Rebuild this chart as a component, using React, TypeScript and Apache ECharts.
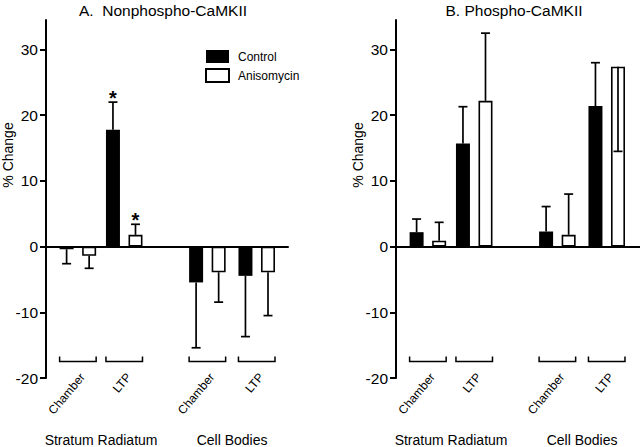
import React, { useEffect, useRef } from 'react';
import * as echarts from 'echarts';

// ---------- data ----------
const groupCategories = ['Chamber', 'LTP'];
const groupNames = ['Stratum Radiatum', 'Cell Bodies'];
const seriesNames = ['Control', 'Anisomycin'];
const panelTitles = ['A.  Nonphospho-CaMKII', 'B. Phospho-CaMKII'];
const yAxisTitle = '% Change';
const yTicks = [-20, -10, 0, 10, 20, 30];

// order: SR Chamber, SR LTP, CB Chamber, CB LTP
const nonphosphoControl = [-0.4, 17.8, -5.45, -4.45];
const nonphosphoControlSem = [2.2, 4.2, 9.95, 9.25];
const nonphosphoControlSig = ['', '*', '', ''];
const nonphosphoAniso = [-1.4, 1.8, -3.9, -3.9];
const nonphosphoAnisoSem = [1.9, 1.6, 4.55, 6.6];
const nonphosphoAnisoSig = ['', '*', '', ''];

const phosphoControl = [2.2, 15.7, 2.3, 21.4];
const phosphoControlSem = [2.0, 5.6, 3.8, 6.6];
const phosphoControlSig = ['', '', '', ''];
const phosphoAniso = [0.9, 22.2, 1.8, 27.4];
const phosphoAnisoSem = [2.8, 10.3, 6.2, 12.9];
const phosphoAnisoSig = ['', '', '', ''];
// direction in which each error bar is drawn (1 = away from zero, -1 = toward zero)
const phosphoAnisoSemDir = [1, 1, 1, -1];

// ---------- layout / style ----------
const FONT = '"Liberation Sans", Arial, Helvetica, sans-serif';
const Y_MIN = -20;
const Y_MAX = 34.5;
const GRID_TOP = 20;
const GRID_H = 358;
const PANEL_LEFT = [46, 396];
const PANEL_WIDTH = [242, 244];
const GROUP_BOX = [
  { left: 8.7, width: 92.7 },
  { left: 136.7, width: 98.7 },
];
const BAR_W = 14;
const BAR_GAP = 0.61;
const HALF = (BAR_W * (1 + BAR_GAP)) / 2;
const BRACKET_LEVEL = -17.5;
const LABEL_LIFT = 7;

type PanelData = {
  control: number[];
  controlSem: number[];
  controlSig: string[];
  aniso: number[];
  anisoSem: number[];
  anisoSig: string[];
  anisoDir: number[];
};

const panels: PanelData[] = [
  {
    control: nonphosphoControl,
    controlSem: nonphosphoControlSem,
    controlSig: nonphosphoControlSig,
    aniso: nonphosphoAniso,
    anisoSem: nonphosphoAnisoSem,
    anisoSig: nonphosphoAnisoSig,
    anisoDir: [1, 1, 1, 1],
  },
  {
    control: phosphoControl,
    controlSem: phosphoControlSem,
    controlSig: phosphoControlSig,
    aniso: phosphoAniso,
    anisoSem: phosphoAnisoSem,
    anisoSig: phosphoAnisoSig,
    anisoDir: phosphoAnisoSemDir,
  },
];

function buildOption() {
  const grid: any[] = [];
  const xAxis: any[] = [];
  const yAxis: any[] = [];
  const series: any[] = [];
  const graphic: any[] = [];

  panels.forEach((pd, p) => {
    // axis grid
    const gi = grid.length;
    grid.push({
      left: PANEL_LEFT[p],
      top: GRID_TOP,
      width: PANEL_WIDTH[p],
      height: GRID_H,
      outerBoundsMode: 'none',
    });
    xAxis.push({
      gridIndex: gi,
      type: 'category',
      data: [''],
      axisLine: { show: true, onZero: true, lineStyle: { color: '#000', width: 2 } },
      axisTick: { show: false },
      axisLabel: { show: false },
      splitLine: { show: false },
    });
    yAxis.push({
      gridIndex: gi,
      type: 'value',
      min: Y_MIN,
      max: Y_MAX,
      axisLine: { show: true, lineStyle: { color: '#000', width: 2 } },
      axisTick: {
        show: true,
        length: 6,
        lineStyle: { color: '#000', width: 2 },
        customValues: yTicks,
      },
      axisLabel: {
        customValues: yTicks,
        fontSize: 15.5,
        color: '#000',
        fontFamily: FONT,
        margin: 8,
      },
      splitLine: { show: false },
    });

    // group grids
    [0, 1].forEach((g) => {
      const idx = grid.length;
      grid.push({
        left: PANEL_LEFT[p] + GROUP_BOX[g].left,
        top: GRID_TOP,
        width: GROUP_BOX[g].width,
        height: GRID_H,
        outerBoundsMode: 'none',
      });
      xAxis.push({
        gridIndex: idx,
        type: 'category',
        data: groupCategories,
        position: 'bottom',
        offset: -LABEL_LIFT,
        axisLine: { show: false, onZero: false },
        axisTick: { show: false },
        axisLabel: {
          interval: 0,
          rotate: 50,
          fontSize: 12,
          color: '#000',
          fontFamily: FONT,
          margin: 0,
          verticalAlign: 'top',
        },
        name: groupNames[g],
        nameLocation: 'middle',
        nameGap: 54 + LABEL_LIFT + 1,
        nameMoveOverlap: false,
        nameTextStyle: { fontSize: 14, color: '#000', fontFamily: FONT },
        splitLine: { show: false },
      });
      yAxis.push({
        gridIndex: idx,
        type: 'value',
        min: Y_MIN,
        max: Y_MAX,
        show: false,
        splitLine: { show: false },
      });

      const sl = [2 * g, 2 * g + 2];
      series.push({
        name: seriesNames[0],
        type: 'bar',
        xAxisIndex: idx,
        yAxisIndex: idx,
        data: pd.control.slice(sl[0], sl[1]),
        barWidth: BAR_W,
        barGap: `${BAR_GAP * 100}%`,
        itemStyle: { color: '#000' },
        silent: true,
      });
      series.push({
        name: seriesNames[1],
        type: 'bar',
        xAxisIndex: idx,
        yAxisIndex: idx,
        data: pd.aniso.slice(sl[0], sl[1]),
        barWidth: BAR_W,
        barGap: `${BAR_GAP * 100}%`,
        itemStyle: { color: '#fff', borderColor: '#000', borderWidth: 1.6 },
        silent: true,
      });

      // error bars
      const errData: number[][] = [];
      const sigs: string[] = [];
      [0, 1].forEach((k) => {
        const i = sl[0] + k;
        const cv = pd.control[i];
        const cs = cv >= 0 ? 1 : -1;
        errData.push([k, cv, cv + cs * pd.controlSem[i], 0]);
        sigs.push(pd.controlSig[i]);
        const av = pd.aniso[i];
        const as = (av >= 0 ? 1 : -1) * pd.anisoDir[i];
        errData.push([k, av, av + as * pd.anisoSem[i], 1]);
        sigs.push(pd.anisoSig[i]);
      });
      series.push({
        type: 'custom',
        xAxisIndex: idx,
        yAxisIndex: idx,
        z: 5,
        silent: true,
        encode: { x: 0, y: 1 },
        data: errData,
        renderItem: (params: any, api: any) => {
          const cat = api.value(0);
          const v = api.value(1);
          const end = api.value(2);
          const slot = api.value(3);
          const p0 = api.coord([cat, v]);
          const p1 = api.coord([cat, end]);
          const x = p0[0] + (slot === 0 ? -HALF : HALF);
          const children: any[] = [
            {
              type: 'line',
              shape: { x1: x, y1: p0[1], x2: x, y2: p1[1] },
              style: { stroke: '#000', lineWidth: 1.7 },
            },
            {
              type: 'line',
              shape: { x1: x - 4.5, y1: p1[1], x2: x + 4.5, y2: p1[1] },
              style: { stroke: '#000', lineWidth: 1.7 },
            },
          ];
          const sig = sigs[params.dataIndex];
          if (sig) {
            children.push({
              type: 'text',
              x,
              y: p1[1] - 4,
              style: {
                text: sig,
                fill: '#000',
                fontSize: 20,
                fontWeight: 'bold',
                fontFamily: FONT,
                align: 'center',
                verticalAlign: 'middle',
              },
            });
          }
          return { type: 'group', children };
        },
      });

      // brackets under each pair
      series.push({
        type: 'custom',
        xAxisIndex: idx,
        yAxisIndex: idx,
        z: 5,
        silent: true,
        encode: { x: 0, y: 1 },
        data: groupCategories.map((_, k) => [k, BRACKET_LEVEL]),
        renderItem: (_params: any, api: any) => {
          const c = api.coord([api.value(0), api.value(1)]);
          const hs = HALF + BAR_W / 2;
          return {
            type: 'polyline',
            shape: {
              points: [
                [c[0] - hs, c[1] - 5],
                [c[0] - hs, c[1]],
                [c[0] + hs, c[1]],
                [c[0] + hs, c[1] - 5],
              ],
            },
            style: { stroke: '#000', lineWidth: 1.5, fill: null },
          };
        },
      });
    });

    const centerX = PANEL_LEFT[p] + [117, 118][p];
    graphic.push({
      type: 'text',
      x: centerX,
      y: 10,
      silent: true,
      style: {
        text: panelTitles[p],
        fill: '#000',
        fontSize: 15.5,
        fontFamily: FONT,
        align: 'center',
        verticalAlign: 'middle',
      },
    });
    graphic.push({
      type: 'text',
      x: PANEL_LEFT[p] - [37.7, 38.5][p],
      y: 155,
      rotation: Math.PI / 2,
      silent: true,
      style: {
        text: yAxisTitle,
        fill: '#000',
        fontSize: 14,
        fontFamily: FONT,
        align: 'center',
        verticalAlign: 'middle',
      },
    });
  });

  return {
    animation: false,
    backgroundColor: '#fff',
    textStyle: { fontFamily: FONT },
    legend: {
      data: seriesNames,
      orient: 'vertical',
      left: 205,
      top: 50,
      padding: 0,
      itemWidth: 23,
      itemHeight: 13,
      itemGap: 5,
      icon: 'rect',
      selectedMode: false,
      textStyle: { fontSize: 12, color: '#000', fontFamily: FONT, padding: [0, 0, 0, 4] },
    },
    grid,
    xAxis,
    yAxis,
    series,
    graphic,
  };
}

export default function App() {
  const ref = useRef<HTMLDivElement>(null);
  useEffect(() => {
    document.body.style.margin = '0';
    if (!ref.current) return;
    const chart = echarts.init(ref.current, null, { renderer: 'svg' });
    chart.setOption(buildOption() as any);
    return () => chart.dispose();
  }, []);
  return <div ref={ref} style={{ width: 640, height: 447 }} />;
}
